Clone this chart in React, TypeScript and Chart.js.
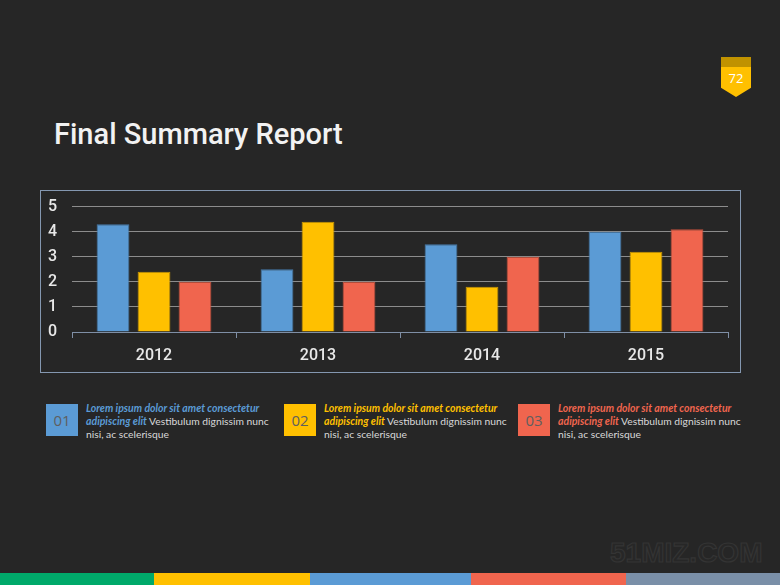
import React, { useEffect, useRef } from "react";
import { Chart, registerables } from "chart.js";

Chart.register(...registerables);

const categories = ["2012", "2013", "2014", "2015"];
const seriesBlue = [4.3, 2.5, 3.5, 4.0];
const seriesYellow = [2.4, 4.4, 1.8, 3.2];
const seriesRed = [2.0, 2.0, 3.0, 4.1];
const yTicks = [0, 1, 2, 3, 4, 5];

const BLUE = "#5B9BD5";
const YELLOW = "#FFC000";
const RED = "#F0654E";

const legendItems = [
  { num: "01", color: BLUE, x: 46 },
  { num: "02", color: YELLOW, x: 284 },
  { num: "03", color: RED, x: 518 },
];

const footerSegments = [
  { color: "#00A96A", w: 154 },
  { color: "#FFC000", w: 156 },
  { color: "#5B9BD5", w: 161 },
  { color: "#F0654E", w: 155 },
  { color: "#7A8FA8", w: 154 },
];

function BarChart() {
  const ref = useRef<HTMLCanvasElement | null>(null);
  useEffect(() => {
    if (!ref.current) return;
    const chart = new Chart(ref.current, {
      type: "bar",
      data: {
        labels: categories,
        datasets: [
          { label: "A", data: seriesBlue, backgroundColor: BLUE, borderColor: "#4679a8", borderWidth: 1 },
          { label: "B", data: seriesYellow, backgroundColor: YELLOW, borderColor: "#c99700", borderWidth: 1 },
          { label: "C", data: seriesRed, backgroundColor: RED, borderColor: "#c0503d", borderWidth: 1 },
        ],
      },
      options: {
        animation: false,
        responsive: false,
        maintainAspectRatio: false,
        layout: { padding: { top: 6, right: 12, left: 0, bottom: 0 } },
        plugins: { legend: { display: false }, tooltip: { enabled: false } },
        datasets: { bar: { categoryPercentage: 0.75, barPercentage: 0.8 } },
        scales: {
          x: {
            grid: {
              offset: true,
              drawOnChartArea: false,
              drawTicks: true,
              tickLength: 6,
              color: "#7f8fa6",
            },
            border: { display: true, color: "#7f8fa6", width: 1 },
            ticks: {
              color: "#e8e8e8",
              font: { family: "Roboto", size: 16, weight: "500" },
              padding: 8,
            },
            afterFit: (scale: any) => {
              scale.height = 40;
            },
          },
          y: {
            min: 0,
            max: 5,
            afterBuildTicks: (scale: any) => {
              scale.ticks = yTicks.map((v) => ({ value: v }));
            },
            grid: { color: "#8c8c8c", lineWidth: 1, drawTicks: false },
            border: { display: false },
            ticks: {
              color: "#e8e8e8",
              font: { family: "Roboto", size: 16, weight: "500" },
              padding: 15,
            },
            afterFit: (scale: any) => {
              scale.width = 31;
            },
          },
        },
      },
    });
    return () => chart.destroy();
  }, []);
  return (
    <canvas
      ref={ref}
      width={699}
      height={190}
      style={{ display: "block", position: "absolute", left: 0, top: -9 }}
    />
  );
}

export default function App() {
  return (
    <div
      style={{
        position: "fixed",
        left: 0,
        top: 0,
        width: 780,
        height: 585,
        background: "#262626",
        overflow: "hidden",
        fontFamily: "Roboto, sans-serif",
      }}
    >
      {/* badge */}
      <div
        style={{
          position: "absolute",
          left: 721,
          top: 57,
          width: 30,
          height: 40,
          background: "linear-gradient(#C09200 0px, #C09200 10px, #FFC000 10px)",
          clipPath: "polygon(0 0, 100% 0, 100% 77%, 50% 100%, 0 77%)",
        }}
      />
      <div
        style={{
          position: "absolute",
          left: 721,
          top: 70,
          width: 30,
          textAlign: "center",
          color: "#ffffff",
          fontFamily: "'Open Sans', sans-serif",
          fontSize: 13,
          lineHeight: "16px",
        }}
      >
        72
      </div>

      {/* title */}
      <div
        style={{
          position: "absolute",
          left: 54,
          top: 117,
          color: "#f2f2f2",
          fontSize: 29,
          lineHeight: "34px",
          fontWeight: 500,
          whiteSpace: "nowrap",
        }}
      >
        Final Summary Report
      </div>

      {/* chart box */}
      <div
        style={{
          position: "absolute",
          left: 40,
          top: 190,
          width: 699,
          height: 181,
          border: "1px solid #8497b0",
        }}
      >
        <BarChart />
      </div>

      {/* legend items */}
      {legendItems.map((it) => (
        <React.Fragment key={it.num}>
          <div
            style={{
              position: "absolute",
              left: it.x,
              top: 404,
              width: 32,
              height: 32,
              background: it.color,
              color: "#5f5f5f",
              fontFamily: "'Open Sans', sans-serif",
              fontSize: 15,
              lineHeight: "32px",
              textAlign: "center",
            }}
          >
            {it.num}
          </div>
          <div
            style={{
              position: "absolute",
              left: it.x + 40,
              top: 402,
              fontFamily: "Lato, sans-serif",
              fontSize: 10.3,
              lineHeight: "13px",
              color: "#d9d9d9",
              whiteSpace: "nowrap",
            }}
          >
            <span style={{ color: it.color, fontStyle: "italic", fontWeight: 700, fontSize: 10.5 }}>
              Lorem ipsum dolor sit amet consectetur
            </span>
            <br />
            <span style={{ color: it.color, fontStyle: "italic", fontWeight: 700, fontSize: 10.5 }}>adipiscing elit</span>{" "}
            Vestibulum dignissim nunc
            <br />
            nisi, ac scelerisque
          </div>
        </React.Fragment>
      ))}

      {/* watermark */}
      <div
        style={{
          position: "absolute",
          left: 610,
          top: 537,
          fontFamily: "'Liberation Sans', Arial, sans-serif",
          fontWeight: 700,
          fontSize: 28,
          lineHeight: "32px",
          color: "#272727",
          WebkitTextStroke: "1.2px #343434",
          letterSpacing: 0,
          whiteSpace: "nowrap",
        }}
      >
        51MIZ.COM
      </div>

      {/* footer bar */}
      <div style={{ position: "absolute", left: 0, top: 573, width: 780, height: 12, display: "flex" }}>
        {footerSegments.map((s, i) => (
          <div key={i} style={{ width: s.w, height: 12, background: s.color }} />
        ))}
      </div>
    </div>
  );
}
